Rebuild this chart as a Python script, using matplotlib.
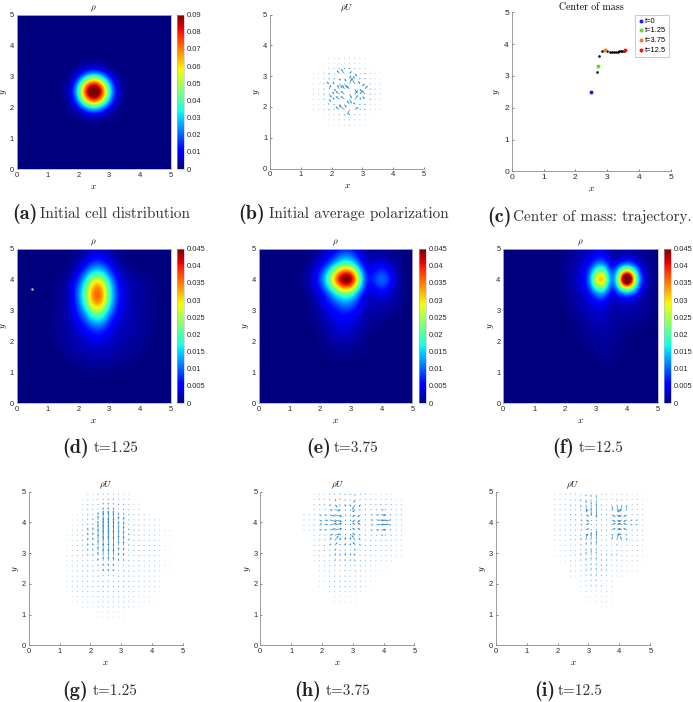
import numpy as np
import matplotlib
matplotlib.use('Agg')
import matplotlib.pyplot as plt
from matplotlib.colors import LinearSegmentedColormap, LogNorm

plt.rcParams['font.family'] = ['Liberation Sans', 'DejaVu Sans']
plt.rcParams['mathtext.fontset'] = 'cm'

W, H = 693, 702

#density, in units of 0.001, grid step 0.25
rho_a_rows = [
 [0,0,.4,.6,.8,.6,.4,0,0],
 [0,.3,1,4,7,4,1,.3,0],
 [.4,1,10,28,38,28,10,1,.4],
 [.6,4,28,68,88,68,28,4,.6],
 [.8,7,38,88,115,88,38,7,.8],
 [.6,4,28,68,88,68,28,4,.6],
 [.4,1,10,28,38,28,10,1,.4],
 [0,.3,1,4,7,4,1,.3,0],
 [0,0,.4,.6,.8,.6,.4,0,0]]

rho_d_rows = [
 [0,0,0,0,.2,.3,.4,.4,.3,.2,0,0,0,0,0],
 [0,0,0,.3,.6,.9,1,1,.9,.7,.5,.2,0,0,0],
 [0,0,.5,.8,1.2,1.5,1.7,1.7,1.5,1.2,.9,.6,.3,0,0],
 [0,.3,.8,1.2,1.7,2.2,2.5,2.5,2.2,1.7,1.2,.9,.6,.3,0],
 [0,.5,1,1.5,2.2,3,4,4,3,2.2,1.5,1.2,1,.5,0],
 [.2,.6,1.2,1.8,3,4.5,6.5,6.5,4,2.5,1.8,1.5,1.2,.7,.2],
 [0,.6,1.2,2,4,7,11,11,6,3,2.2,1.6,1.2,.9,.3],
 [0,.6,1.2,2.5,6,11,18,18,9,4.5,2.5,1.8,1.2,.9,.3],
 [0,.6,1.2,3,8,16,27,26,13,6,3,1.8,1.2,.9,.3],
 [0,.4,1,3,10,21,36,35,18,7,3,1.8,1.2,.9,.3],
 [0,.4,1,3,11,23,38,37,19,8,3,1.8,1.2,.9,.3],
 [0,.4,1,3,10,21,36,35,18,7,3,1.8,1.2,.9,.3],
 [0,.2,.6,2,7,16,27,26,14,5.5,2.5,1.5,1,.6,0],
 [0,0,.3,1,4,10,16,16,9,3.5,1.5,1,.3,0,0],
 [0,0,0,.5,2,5,9,8.5,5,1.8,.6,.2,0,0,0],
 [0,0,0,.3,1,2.5,4.5,4.5,2.5,1,.3,0,0,0,0],
 [0,0,0,.2,.6,1.5,2.5,2.5,1.5,.5,.1,0,0,0,0]]

rho_e_rows = [
 [0,0,0,.2,.5,.5,.4,.2,0,0,0,0,0,0],
 [0,0,.2,.6,1,1.2,1,.5,.2,0,0,0,0,0],
 [0,0,.4,1,1.7,2,1.7,1,.4,0,0,0,0,0],
 [0,0,.7,1.5,2.5,3,2.5,1.5,.7,.3,0,0,0,0],
 [0,.2,1,2,3.5,4,3.5,2,1,.5,.3,0,0,0],
 [0,.5,1.5,3,4.5,5.5,5,3,1.5,1,.8,.5,0,0],
 [0,.8,2,4,6,8,7,4,2,1.5,1.5,1.2,.6,0],
 [0,1,3,6,10,13,12,6,2.5,2,2.5,2,1,0],
 [0,1.5,4,9,15,20,19,9,3,3,4.5,3,1.5,0],
 [1,2.5,7,15,28,38,36,18,4,6,9,5,1.5,0],
 [1,3,9,21,38,52,50,25,5,8,13,7,2,0],
 [1,2.5,7,15,28,38,36,18,4,6,9,5,1.5,0],
 [0,1.5,4,8,14,19,18,9,3,3,4.5,3,1,0],
 [0,.8,2.5,4,8,12,11,5,2,1.5,1.5,1,.5,0],
 [0,.3,1,2.5,4.5,6,6,3,1,.8,.8,.5,.2,0]]

rho_f_rows = [
 [0,0,0,0,.1,.2,.3,.1,0,0,0,0],
 [0,0,0,0,.3,.7,.7,.3,0,0,0,0],
 [0,0,0,.3,.8,1,.9,.5,0,0,0,0],
 [0,0,.2,.7,1.2,1.2,1,.7,.2,0,0,0],
 [0,0,.4,1,1.5,1.5,1.2,.8,.4,.2,0,0],
 [0,.2,.8,1.3,2,2,1.5,1,.8,.6,.3,0],
 [0,.5,1,1.8,2.5,2.5,1.5,1.2,1.2,1,.8,.3],
 [.3,.8,1.5,2.5,3.5,3,1.5,1.5,1.5,1.5,1,.5],
 [.5,1,2,3,5,6,1.5,2,3,2,1.2,.8],
 [.8,1.2,2.5,4,10,12,2,6,10,6,1.8,.8],
 [1,1.5,3.5,6,22,27,3,20,34,20,3,1],
 [1,1.5,4,7,32,40,3,26,85,26,6,1],
 [1,1.5,3.5,6,22,27,3,20,34,20,3,1],
 [.8,1.2,2.5,4,10,12,1.8,6,10,6,1.5,.8],
 [.8,1,2,3,5,6,1.2,1.5,2.5,1.5,1,.5],
 [.5,1,1.5,2,3,4,1,1,1.5,1,.5,.3]]

#velocity per 0.5 wide cell, rows from y=0.25 up to y=4.75
U_g = [
 [0,0,0,0,0,0,0,0,0,0],
 [0,0,0,0,0,0,0,0,0,0],
 [0,0,.1,.1,0,0,-.1,-.1,0,0],
 [0,.1,.1,.1,0,0,-.1,-.1,-.1,0],
 [0,.1,.1,.1,0,0,-.1,-.1,-.1,0],
 [0,.1,.1,.05,0,0,-.05,-.1,-.1,0],
 [0,.1,.05,.03,0,0,-.03,-.05,-.1,0],
 [0,.05,.05,.03,0,0,-.03,-.05,-.05,0],
 [0,-.05,-.05,-.03,0,0,.03,.05,.05,0],
 [0,-.1,-.1,-.05,0,0,.05,.1,.1,0]]
V_g = [
 [0,0,0,0,0,0,0,0,0,0],
 [0,0,0,0,0,0,0,0,0,0],
 [0,0,.3,.5,.6,.6,.5,.3,0,0],
 [0,.2,.4,.7,.9,.9,.7,.4,.2,0],
 [0,.3,.5,.8,1,1,.8,.5,.3,0],
 [0,.3,.6,1,1.1,1.1,1,.6,.3,0],
 [0,.3,.6,1.1,1.2,1.2,1.1,.6,.3,0],
 [0,.3,.6,1.1,1.2,1.2,1.1,.6,.3,0],
 [0,.2,.5,1,1.2,1.2,1,.5,.2,0],
 [0,.1,.4,.8,1,1,.8,.4,.1,0]]

U_h = [
 [0,0,0,0,0,0,0,0,0,0],
 [0,0,0,0,0,0,0,0,0,0],
 [0,0,.3,.4,.4,0,-.3,-.3,0,0],
 [0,0,.5,.6,.4,0,-.4,-.5,-.3,0],
 [0,0,.6,.8,.5,.1,-.5,-.6,-.4,0],
 [0,.3,.8,1,.6,.2,-.8,-.8,-.5,-.2],
 [0,.3,.6,.9,.8,.1,-.6,-.4,-.5,-.3],
 [0,.3,.6,1,1.2,.2,-.5,1.8,-1.2,-.5],
 [0,.3,.6,1,1.2,.2,-.5,1.8,-1.2,-.5],
 [0,.3,.6,.9,.6,.05,-.5,-.5,-.5,-.2]]
V_h = [
 [0,0,0,0,0,0,0,0,0,0],
 [0,0,0,0,0,0,0,0,0,0],
 [0,0,.6,.8,.8,.8,.6,.4,0,0],
 [0,.2,.8,1,1,1,.8,.6,.2,0],
 [0,.3,.8,1.1,1.2,1.2,1,.7,.3,0],
 [0,.3,.9,1.2,1.3,1.2,1,.7,.4,.1],
 [0,.3,.7,1,1,.6,.9,.7,.5,.2],
 [0,.2,.4,.5,.3,.2,.4,.2,.2,.1],
 [0,-.2,-.4,-.5,-.3,-.2,-.4,-.2,-.2,-.1],
 [0,-.3,-.7,-.9,-.6,-.4,-.9,-.7,-.5,-.2]]

U_i = [
 [0,0,0,0,0,0,0,0,0,0],
 [0,0,0,0,0,0,0,0,0,0],
 [0,0,0,.4,.3,0,-.2,-.3,0,0],
 [0,0,.4,.5,.4,.4,0,-.4,-.4,0],
 [0,0,.5,.5,.5,.5,.2,-.3,-.5,-.4],
 [0,.2,.5,.5,.4,.4,.2,.2,-.5,-.8],
 [0,.2,.4,.6,.5,.4,.1,.7,-.7,-1],
 [0,.2,.5,.8,1,1,.2,1.2,-1.2,-1.2],
 [0,.2,.5,.8,1,1,.2,1.2,-1.2,-1.2],
 [0,.2,.4,.5,.4,.2,.1,.6,-.6,-.8]]
V_i = [
 [0,0,0,0,0,0,0,0,0,0],
 [0,0,0,0,0,0,0,0,0,0],
 [0,0,0,1,3,6,6,2,0,0],
 [0,0,.5,1.5,3.5,6,7,5,1,0],
 [0,.3,1,2,3,5,7,6,2.5,.5],
 [0,.3,1,1.8,3,4.5,6,6,3,1.5],
 [0,.3,.8,1.5,2.5,2.5,3,2.5,1.5,1],
 [0,.15,.4,.6,.5,.5,.4,.6,.6,.5],
 [0,-.15,-.4,-.6,-.5,-.5,-.4,-.6,-.6,-.5],
 [0,-.3,-.8,-1.5,-3,-3,-4,-3,-2.5,-1]]

#panel b, step 0.25, x and y from 1.5 to 3.5
U_b = [
 [.2,-.3,.5,-.4,.6,.3,-.5,.2],
 [-.4,.6,.3,-.8,-.3,.7,.4,-.3],
 [.5,-.7,.4,.3,-.4,-.2,.5,-.4],
 [.3,.4,-.3,-.35,.2,.3,-.5,.4],
 [-.5,.3,.25,-.2,-.3,.25,.4,-.3],
 [.4,-.5,-.3,.3,.2,-.3,-.6,.5],
 [-.3,.4,.6,-.5,.3,.5,-.4,.2],
 [.2,-.4,.3,.5,-.6,.3,.4,-.2]]
V_b = [
 [.3,.5,-.4,.6,-.5,.4,.3,-.2],
 [.5,-.4,.7,.6,-.8,.5,-.6,.4],
 [-.4,.6,.5,-.5,.6,.5,-.4,.5],
 [.6,-.5,.4,.3,-.4,.4,.6,-.3],
 [.4,.6,-.3,.4,.35,-.4,.5,.5],
 [-.5,.4,.5,-.4,.5,.6,-.4,.3],
 [.4,-.3,-.5,.7,.4,-.6,.6,-.4],
 [-.2,.5,.4,-.4,.6,.3,-.3,.3]]

com_x = [2.68,2.74,2.85,3.0,3.08,3.15,3.22,3.28,3.33,3.38,3.43,3.48,3.52]
com_y = [3.12,3.63,3.79,3.79,3.76,3.76,3.76,3.76,3.76,3.77,3.77,3.78,3.79]
mark_t = ['t=0','t=1.25','t=3.75','t=12.5']
mark_x = [2.5,2.7,2.93,3.57]
mark_y = [2.5,3.3,3.8,3.8]
mark_c = ['#1a1aff','#66dd11','#ff7722','#ff0a0a']

cb_a = [0,0.01,0.02,0.03,0.04,0.05,0.06,0.07,0.08,0.09]
cb_a_lab = ['0','0.01','0.02','0.03','0.04','0.05','0.06','0.07','0.08','0.09']
cb_b = [0,0.005,0.01,0.015,0.02,0.025,0.03,0.035,0.04,0.045]
cb_b_lab = ['0','0.005','0.01','0.015','0.02','0.025','0.03','0.035','0.04','0.045']

def field(rows, r0, c0):
    #small window of values put into the full 21x21 grid
    f = np.zeros((21,21))
    rows = np.array(rows)
    f[r0:r0+rows.shape[0], c0:c0+rows.shape[1]] = rows
    return f

rho_a = field(rho_a_rows, 6, 6)
rho_d = field(rho_d_rows, 4, 4)
rho_e = field(rho_e_rows, 6, 6)
rho_f = field(rho_f_rows, 5, 8)

fig = plt.figure(figsize=(W/100, H/100), dpi=100)

def axes_px(x0, x1, ytop, ybot):
    return fig.add_axes([x0/W, 1-ybot/H, (x1-x0)/W, (ybot-ytop)/H])

TICK = 5.4
GREY = '#8c8c8c'
arrow_cmap = LinearSegmentedColormap.from_list('pale', ['#d5ebfb', '#7fc0f0', '#2384d6'])

def common(ax, title, ylab_off=12.7):
    ax.set_xlim(0,5)
    ax.set_ylim(0,5)
    ax.set_xticks(range(6))
    ax.set_yticks(range(6))
    ax.tick_params(labelsize=TICK, length=1.2, width=0.4, direction='in', pad=2, colors='#262626')
    ax.set_xlabel(r'$x$', fontsize=6.5)
    ax.set_ylabel(r'$y$', fontsize=6.5, va='center')
    box = ax.get_position()
    ax.yaxis.set_label_coords(-ylab_off/(box.width*W), 0.5)
    ax.xaxis.set_label_coords(0.5, -13/(box.height*H))
    ax.set_title(title, fontsize=6.5, pad=3)

def heat(x0, x1, ytop, ybot, cx0, cx1, rho, vmax, ticks, labs):
    ax = axes_px(x0, x1, ytop, ybot)
    im = ax.imshow(rho*0.001, origin='lower', extent=[-.125,5.125,-.125,5.125], cmap='jet',
                   vmin=0, vmax=vmax, interpolation='bicubic', aspect='auto')
    common(ax, r'$\rho$')
    for s in ax.spines.values():
        s.set_color('#b4b4d8')
        s.set_linewidth(0.6)
    cax = axes_px(cx0, cx1, ytop, ybot)
    cb = fig.colorbar(im, cax=cax)
    cb.set_ticks(ticks)
    cb.set_ticklabels(labs)
    cb.ax.tick_params(labelsize=TICK, length=0, pad=2, colors='#262626')
    cb.outline.set_edgecolor('#b4b4d8')
    cb.outline.set_linewidth(0.4)
    return ax

def plain_spines(ax):
    ax.spines['top'].set_visible(False)
    ax.spines['right'].set_visible(False)
    ax.spines['left'].set_color(GREY)
    ax.spines['bottom'].set_color(GREY)
    ax.spines['left'].set_linewidth(0.6)
    ax.spines['bottom'].set_linewidth(0.6)

def arrows(x0, x1, ytop, ybot, rho, U, V, scale, cap, v_step=0.5, v_start=0.0):
    ax = axes_px(x0, x1, ytop, ybot)
    U = np.array(U)
    V = np.array(V)
    #the quiver grid has 30 points a side, each takes the nearest values read above
    xs = (np.arange(30)+0.5)/6
    X, Y = np.meshgrid(xs, xs)
    R = rho[np.rint(Y/0.25).astype(int), np.rint(X/0.25).astype(int)]
    ci = np.floor((X-v_start)/v_step).astype(int)
    ri = np.floor((Y-v_start)/v_step).astype(int)
    ok = (ci >= 0) & (ri >= 0) & (ci < U.shape[1]) & (ri < U.shape[0])
    Uq = np.zeros(X.shape)
    Vq = np.zeros(X.shape)
    Uq[ok] = U[ri[ok], ci[ok]]
    Vq[ok] = V[ri[ok], ci[ok]]
    keep = R >= 0.3
    #arrows stay short inside the peaks
    L = np.minimum(R, cap)
    ax.quiver(X[keep], Y[keep], (L*Uq)[keep], (L*Vq)[keep], R[keep], angles='xy', scale_units='xy', scale=scale,
              units='xy', width=0.022, headwidth=3, headlength=3.5, headaxislength=3,
              minlength=2, cmap=arrow_cmap, norm=LogNorm(0.3, 14))
    common(ax, r'$\rho U$')
    plain_spines(ax)
    return ax

#top row
heat(16.7, 170.7, 14.7, 169, 177, 184.3, rho_a, 0.09, cb_a, cb_a_lab)
arrows(270, 424, 14.7, 168.5, rho_a, U_b, V_b, 170, 60, 0.25, 1.5)

ax = axes_px(511.7, 670.7, 12.3, 171.3)
ax.scatter(com_x, com_y, s=3.5, c='k', linewidths=0, zorder=2)
for t, x, y, c in zip(mark_t, mark_x, mark_y, mark_c):
    ax.scatter([x], [y], s=8, c=c, linewidths=0, label=t, zorder=3)
common(ax, '', 14.7)
ax.set_title('Center of mass', fontsize=7.1, family='cmr10', pad=2)
ax.tick_params(labelsize=6)
plain_spines(ax)
leg = ax.legend(loc='upper right', bbox_to_anchor=(0.988, 0.985), fontsize=5.4, frameon=True, fancybox=False,
                borderpad=0.35, labelspacing=0.35, handletextpad=0.05, handlelength=1.0, borderaxespad=0)
leg.get_frame().set_edgecolor('#bdbdbd')
leg.get_frame().set_linewidth(0.7)

#middle row
ax_d = heat(16.7, 170.7, 248.7, 403, 177, 184.3, rho_d, 0.045, cb_b, cb_b_lab)
ax_d.scatter([0.5], [3.7], s=3, c='#c8c8c8', linewidths=0)
heat(258.7, 412.3, 248.7, 403, 418.7, 426, rho_e, 0.045, cb_b, cb_b_lab)
heat(503.3, 657.7, 248.7, 403, 663.7, 671.3, rho_f, 0.045, cb_b, cb_b_lab)

#bottom row
arrows(28.7, 182.7, 491.7, 645.3, rho_d, U_g, V_g, 130, 40)
arrows(260.3, 414.3, 491.7, 645.3, rho_e, U_h, V_h, 90, 18)
arrows(495.7, 650.3, 491.7, 645.3, rho_f, U_i, V_i, 110, 12)

#captions: bold letter then text, positions in pixels
caps = [('(a)', 'Initial cell distribution', 12, 214),
        ('(b)', 'Initial average polarization', 238, 214),
        ('(c)', 'Center of mass: trajectory.', 487, 217),
        ('(d)', 't=1.25', 62, 448),
        ('(e)', 't=3.75', 306, 448),
        ('(f)', 't=12.5', 552, 448),
        ('(g)', 't=1.25', 62, 691),
        ('(h)', 't=3.75', 294, 691),
        ('(i)', 't=12.5', 534, 691)]
gaps = {'(a)':28, '(b)':30.7, '(c)':26, '(d)':32, '(e)':28, '(f)':27, '(g)':30.7, '(h)':31.7, '(i)':24}
for lab, txt, x, y in caps:
    fig.text(x/W, 1-y/H, lab, family='cmb10', fontsize=14.5, va='center', ha='left', color='#222222')
    fig.text((x+gaps[lab])/W, 1-y/H, txt, family='cmr10', fontsize=11, va='center', ha='left', color='#333333')

fig.savefig('out.png', dpi=100)
